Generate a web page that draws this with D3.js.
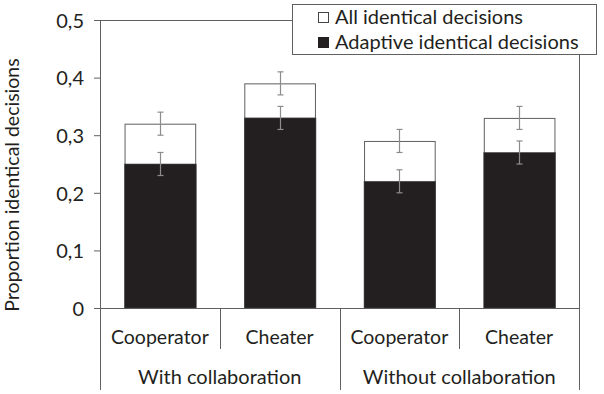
<!DOCTYPE html>
<html>
<head>
<meta charset="utf-8">
<script src="https://cdn.jsdelivr.net/npm/d3@7"></script>
<style>
  body { margin: 0; background: #fff; }
  text { font-family: Lato, "Open Sans", sans-serif; fill: #231f20; }
</style>
</head>
<body>
<div id="chart"></div>
<script>
// data
var categories = ["Cooperator", "Cheater", "Cooperator", "Cheater"];
var groups = ["With collaboration", "Without collaboration"];
var allIdentical = [0.32, 0.39, 0.29, 0.33];
var allErr = [0.02, 0.02, 0.02, 0.02];
var adaptive = [0.25, 0.33, 0.22, 0.27];
var adaptiveErr = [0.02, 0.02, 0.02, 0.02];
var yTicks = [0, 0.1, 0.2, 0.3, 0.4, 0.5];
var legendLabels = ["All identical decisions", "Adaptive identical decisions"];

var W = 604, H = 394;
var mLeft = 100, mRight = 579, mTop = 20, mBottom = 308;
var lineColor = "#606060";
var errColor = "#8c8c8c";
var dark = "#231f20";

var svg = d3.select("#chart").append("svg")
    .attr("width", W).attr("height", H)
    .attr("viewBox", [0, 0, W, H]);

var x = d3.scaleBand().domain(d3.range(categories.length))
    .range([mLeft, mRight]).paddingInner(0.41).paddingOuter(0.205);
var band = d3.scaleBand().domain(d3.range(categories.length)).range([mLeft, mRight]);
var xg = d3.scaleBand().domain(d3.range(groups.length)).range([mLeft, mRight]);
var y = d3.scaleLinear().domain([0, 0.5]).range([mBottom, mTop]);

// y axis
var yAxis = d3.axisLeft(y).tickValues(yTicks).tickSize(6).tickSizeOuter(0)
    .tickFormat(function (d) { return d === 0 ? "0" : d3.format(".1f")(d).replace(".", ","); });
var ya = svg.append("g").attr("transform", "translate(" + mLeft + ",0)").call(yAxis);
ya.selectAll("path, line").attr("stroke", lineColor);
ya.selectAll("text").attr("font-size", 20).attr("x", -16).attr("dy", "0.36em")
    .style("font-family", "Lato, sans-serif").attr("fill", dark);

// frame pieces
svg.append("line").attr("x1", mLeft).attr("x2", 292).attr("y1", mTop + 0.5).attr("y2", mTop + 0.5)
    .attr("stroke", lineColor);
svg.append("line").attr("x1", mRight + 0.5).attr("x2", mRight + 0.5).attr("y1", 54).attr("y2", mBottom)
    .attr("stroke", lineColor);

// x axis line and separators
svg.append("line").attr("x1", mLeft - 6).attr("x2", mRight).attr("y1", mBottom + 0.5).attr("y2", mBottom + 0.5)
    .attr("stroke", lineColor);
var seps = d3.range(categories.length + 1);
svg.append("g").selectAll("line").data(seps).join("line")
    .attr("x1", function (i) { return Math.round(mLeft + i * band.bandwidth()) + 0.5; })
    .attr("x2", function (i) { return Math.round(mLeft + i * band.bandwidth()) + 0.5; })
    .attr("y1", mBottom)
    .attr("y2", function (i) { return i % 2 === 0 ? 390 : 349; })
    .attr("stroke", lineColor);

svg.append("g").selectAll("text").data(categories).join("text")
    .attr("x", function (d, i) { return band(i) + band.bandwidth() / 2; })
    .attr("y", 344)
    .attr("text-anchor", "middle").attr("font-size", 19.5)
    .text(function (d) { return d; });

svg.append("g").selectAll("text").data(groups).join("text")
    .attr("x", function (d, i) { return xg(i) + xg.bandwidth() / 2; })
    .attr("y", 384)
    .attr("text-anchor", "middle").attr("font-size", 20)
    .text(function (d) { return d; });

// bars
svg.append("g").selectAll("rect").data(allIdentical).join("rect")
    .attr("x", function (d, i) { return x(i) + 0.5; })
    .attr("y", function (d) { return y(d) + 0.5; })
    .attr("width", x.bandwidth())
    .attr("height", function (d) { return mBottom - y(d); })
    .attr("fill", "#fff").attr("stroke", lineColor);

svg.append("g").selectAll("rect").data(adaptive).join("rect")
    .attr("x", function (d, i) { return x(i); })
    .attr("y", function (d) { return y(d); })
    .attr("width", x.bandwidth() + 1)
    .attr("height", function (d) { return mBottom - y(d); })
    .attr("fill", dark).attr("stroke", "#4a4a4a").attr("stroke-width", 0.6);

// error bars
function errorBars(vals, errs) {
    var g = svg.append("g").attr("stroke", errColor).attr("stroke-width", 1.2);
    vals.forEach(function (v, i) {
        var cx = Math.round(x(i) + x.bandwidth() / 2) + 0.5;
        g.append("line").attr("x1", cx).attr("x2", cx)
            .attr("y1", y(v + errs[i])).attr("y2", y(v - errs[i]));
        [v + errs[i], v - errs[i]].forEach(function (e) {
            g.append("line").attr("x1", cx - 3).attr("x2", cx + 3)
                .attr("y1", y(e)).attr("y2", y(e));
        });
    });
}
errorBars(allIdentical, allErr);
errorBars(adaptive, adaptiveErr);

// y label
svg.append("text")
    .attr("transform", "translate(19,185) rotate(-90)")
    .attr("text-anchor", "middle").attr("font-size", 19.5)
    .text("Proportion identical decisions");

// legend
var lg = svg.append("g");
lg.append("rect").attr("x", 292.5).attr("y", 4.5).attr("width", 304).attr("height", 50)
    .attr("fill", "#fff").attr("stroke", lineColor);
var items = lg.selectAll("g").data(legendLabels).join("g")
    .attr("transform", function (d, i) { return "translate(318," + (12 + i * 25) + ")"; });
items.append("rect").attr("x", 0.5).attr("y", 0.5).attr("width", 10).attr("height", 10)
    .attr("fill", function (d, i) { return i === 0 ? "#fff" : dark; })
    .attr("stroke", function (d, i) { return i === 0 ? "#444" : dark; });
items.append("text").attr("x", 17).attr("y", 11.5).attr("font-size", 20)
    .text(function (d) { return d; });
</script>
</body>
</html>
